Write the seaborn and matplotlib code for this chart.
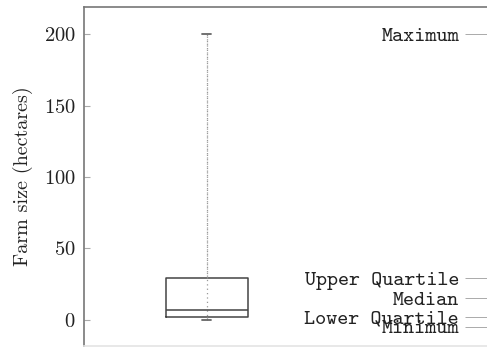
import matplotlib
matplotlib.use("Agg")
import matplotlib.pyplot as plt
import seaborn as sns
import pandas as pd

# Five-number summary of farm sizes (hectares)
farm_sizes = [0.0, 2.3, 7.0, 29.3, 200.0]   # min, Q1, median, Q3, max
label_names = ["Maximum", "Upper Quartile", "Median", "Lower Quartile", "Minimum"]
label_values = [200.0, 29.3, 15.2, 2.3, -4.7]
y_ticks = [0, 50, 100, 150, 200]

sns.set_theme(style="white")
plt.rcParams["font.family"] = ["cmr10", "DejaVu Serif"]
plt.rcParams["axes.formatter.use_mathtext"] = True

df = pd.DataFrame({"group": ["farms"] * len(farm_sizes), "size": farm_sizes})

fig = plt.figure(figsize=(4.87, 3.47), dpi=100)
ax = fig.add_axes([84 / 487, 1 / 347, (490 - 84) / 487, (346 - 7) / 347])

box_w = 0.8
sns.boxplot(data=df, x="group", y="size", ax=ax, whis=(0, 100), width=box_w,
            fill=False, color="#444444", linewidth=1.1,
            whiskerprops=dict(linestyle=(0, (1, 2.5)), color="#999999", linewidth=0.9),
            capprops=dict(color="#666666", linewidth=1.3),
            capwidths=0.09)
# dotted line through the box from minimum to maximum
ax.plot([0, 0], [min(farm_sizes), max(farm_sizes)], linestyle=(0, (1, 2.5)),
        color="#999999", linewidth=0.9, zorder=1)

px_per_unit = 82 / box_w
ax.set_xlim(0 - (206.7 - 84) / px_per_unit, 0 + (490 - 206.7) / px_per_unit)
ax.set_ylim(-18.2, 218.9)
ax.set_yticks(y_ticks)
ax.set_xticks([])
ax.set_xlabel("")
ax.set_ylabel("Farm size (hectares)", fontsize=14.5, color="#222222", labelpad=8)
ax.tick_params(axis="y", which="both", direction="in", length=4, width=0.8,
               color="#aaaaaa", labelsize=14.8, labelcolor="#222222",
               left=True, right=True, pad=6)
for side, sp in ax.spines.items():
    sp.set_visible(True)
    sp.set_color("#777777")
    sp.set_linewidth(1.2)
ax.spines["bottom"].set_color("#e4e4e4")

ax2 = ax.twinx()
ax2.set_ylim(ax.get_ylim())
ax2.set_yticks(label_values, labels=label_names)
ax2.tick_params(axis="y", direction="in", length=18, width=0.7, color="#aaaaaa",
                labelsize=15.2, labelcolor="#222222", pad=-22.3)
for lab in ax2.get_yticklabels():
    lab.set_horizontalalignment("right")
    lab.set_fontfamily(["cmtt10", "DejaVu Sans Mono"])
for sp in ax2.spines.values():
    sp.set_visible(False)

fig.savefig("out.png", dpi=100)
